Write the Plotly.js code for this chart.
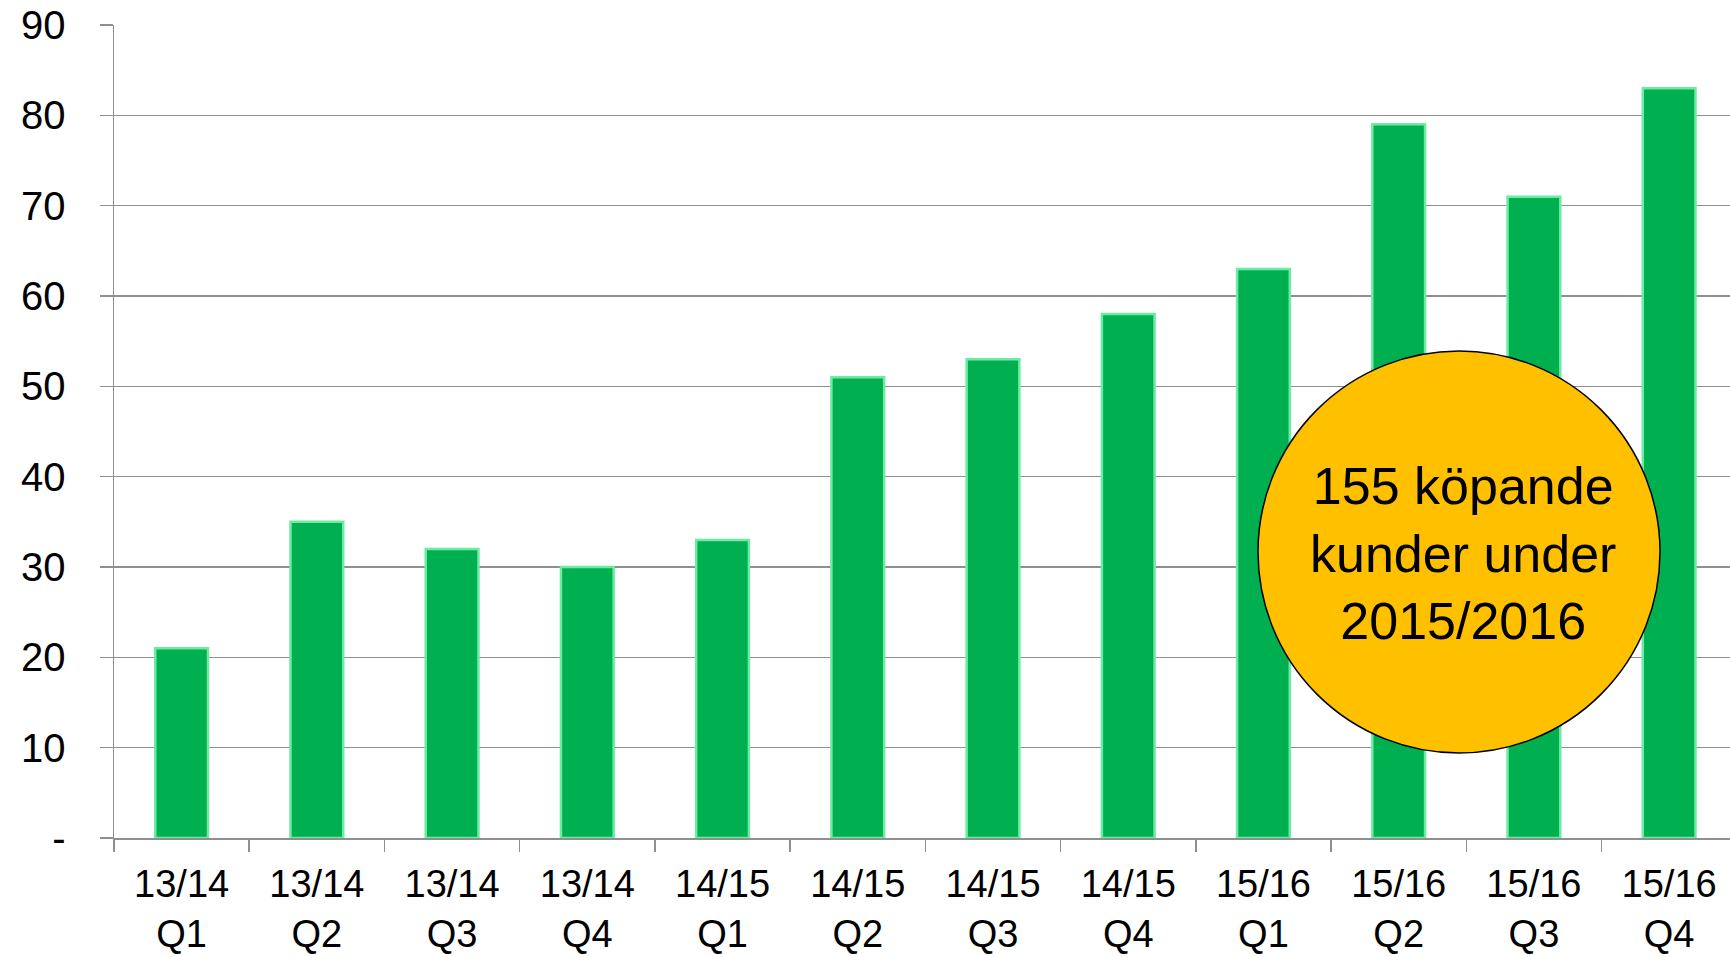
<!DOCTYPE html>
<html>
<head>
<meta charset="utf-8">
<script src="https://cdn.plot.ly/plotly-3.0.1.min.js"></script>
<style>html,body{margin:0;padding:0;background:#fff;}#chart{width:1730px;height:957px;}</style>
</head>
<body>
<div id="chart"></div>
<script>
// Data
const periods = ["13/14","13/14","13/14","13/14","14/15","14/15","14/15","14/15","15/16","15/16","15/16","15/16"];
const quarters = ["Q1","Q2","Q3","Q4","Q1","Q2","Q3","Q4","Q1","Q2","Q3","Q4"];
const values = [21, 35, 32, 30, 33, 51, 53, 58, 63, 79, 71, 83];
const yTickVals = [0,10,20,30,40,50,60,70,80,90];
const yTickText = ["-","10","20","30","40","50","60","70","80","90"];
const badgeText = "155 köpande<br>kunder under<br>2015/2016";

const categories = periods.map((p, i) => p + "<br>" + quarters[i]);

const trace = {
  type: "bar",
  x: categories,
  y: values,
  marker: {color: "#00B050", line: {color: "#6EEBA3", width: 2.5}},
  hoverinfo: "x+y"
};

const gridColor = "#8f8f8f";
const fam = "Liberation Sans, Arial, sans-serif";

const layout = {
  width: 1730, height: 957,
  margin: {l: 114, r: 0, t: 25, b: 119, pad: 0},
  paper_bgcolor: "#fff", plot_bgcolor: "#fff",
  font: {family: fam, size: 39, color: "#000"},
  showlegend: false,
  bargap: 0.61,
  xaxis: {
    type: "category",
    range: [-0.5, 11.45],
    showgrid: false,
    showline: true, linecolor: gridColor, linewidth: 1.5,
    ticks: "outside", tickson: "boundaries", ticklen: 12, tickcolor: gridColor, tickwidth: 1.5,
    tickfont: {family: fam, size: 38, color: "#000"},
    ticklabelstandoff: 12,
    fixedrange: true
  },
  yaxis: {
    range: [0, 90],
    tickvals: yTickVals, ticktext: yTickText,
    showgrid: true, gridcolor: gridColor, gridwidth: 1.5,
    zeroline: false,
    showline: true, linecolor: gridColor, linewidth: 1.5,
    ticks: "outside", ticklen: 13, tickcolor: gridColor, tickwidth: 1.5,
    tickfont: {family: fam, size: 40, color: "#000"},
    ticklabelstandoff: 26,
    fixedrange: true
  },
  shapes: [{
    type: "circle",
    xref: "paper", yref: "paper",
    xsizemode: "pixel", ysizemode: "pixel",
    xanchor: 0.8323, yanchor: 0.3518,
    x0: -201, x1: 201, y0: -201, y1: 201,
    fillcolor: "#FFC000",
    line: {color: "#000", width: 1.5},
    layer: "above"
  }],
  annotations: [{
    xref: "paper", yref: "paper",
    x: 0.8345, y: 0.3495,
    xanchor: "center", yanchor: "middle",
    text: badgeText,
    showarrow: false,
    align: "center",
    font: {family: fam, size: 52, color: "#000"}
  }]
};

Plotly.newPlot("chart", [trace], layout, {displayModeBar: false, staticPlot: true});
</script>
</body>
</html>
